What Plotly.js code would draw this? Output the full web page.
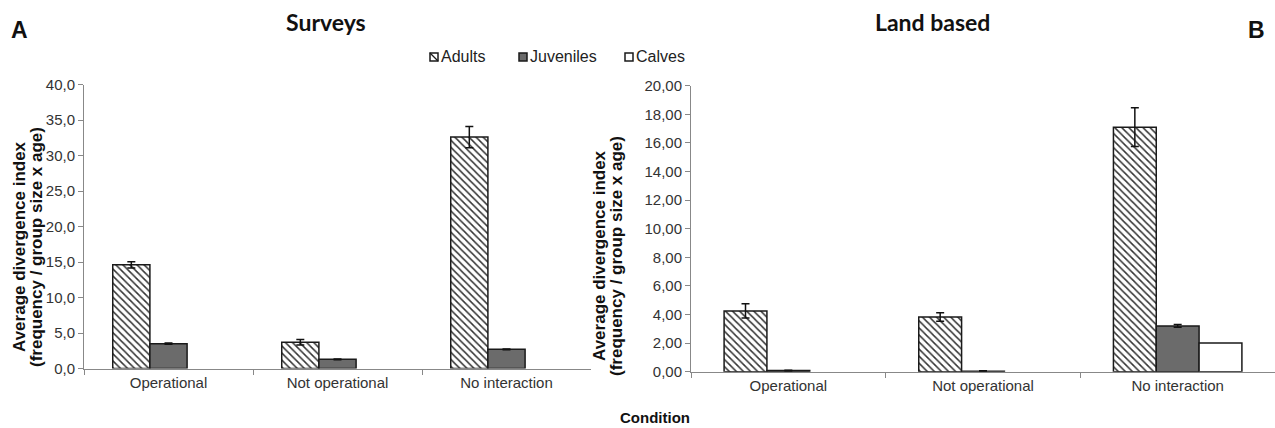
<!DOCTYPE html>
<html>
<head>
<meta charset="utf-8">
<script src="https://cdn.plot.ly/plotly-3.0.1.min.js"></script>
<style>html,body{margin:0;padding:0;background:#fff;}#chart{width:1275px;height:428px;}</style>
</head>
<body>
<div id="chart"></div>
<script>
// ---- data ----
const categories = ['Operational', 'Not operational', 'No interaction'];
const ageClasses = ['Adults', 'Juveniles', 'Calves'];
const panelTitles = ['Surveys', 'Land based'];
const panelLetters = ['A', 'B'];
const xTitle = 'Condition';
const yTitleLines = ['Average divergence index', '(frequency / group size x age)'];

const surveysAdults = [14.6, 3.7, 32.6];
const surveysAdultsErr = [0.45, 0.4, 1.5];
const surveysJuveniles = [3.5, 1.3, 2.7];
const surveysJuvenilesErr = [0.1, 0.05, 0.05];
const surveysCalves = [0, 0, 0];

const landAdults = [4.25, 3.83, 17.1];
const landAdultsErr = [0.5, 0.3, 1.35];
const landJuveniles = [0.08, 0.04, 3.2];
const landJuvenilesErr = [0.03, 0.02, 0.1];
const landCalves = [0, 0, 2.0];

// ---- helpers ----
const W = 1275, H = 428;
const px = x => x / W;
const py = y => 1 - y / H;
const errStyle = arr => ({type: 'data', array: arr, visible: true, color: '#111', thickness: 1.5, width: 4});

const fills = [
  {color: '#ffffff', pattern: {shape: '\\', fgcolor: '#333333', bgcolor: '#ffffff', size: 5, solidity: 0.3}},
  {color: '#6b6b6b'},
  {color: '#ffffff'}
];

function bar(y, err, i, xa, ya) {
  const marker = Object.assign({}, fills[i], {line: {color: '#1a1a1a', width: y.map(v => (v > 0 ? 1.5 : 0))}});
  const t = {type: 'bar', x: categories, y: y, name: ageClasses[i], marker: marker,
    xaxis: xa, yaxis: ya, showlegend: false, hoverinfo: 'x+y'};
  if (err) t.error_y = errStyle(err);
  return t;
}

const data = [
  bar(surveysAdults, surveysAdultsErr, 0, 'x', 'y'),
  bar(surveysJuveniles, surveysJuvenilesErr, 1, 'x', 'y'),
  bar(surveysCalves, null, 2, 'x', 'y'),
  bar(landAdults, landAdultsErr, 0, 'x2', 'y2'),
  bar(landJuveniles, landJuvenilesErr, 1, 'x2', 'y2'),
  bar(landCalves, null, 2, 'x2', 'y2')
];

const tickFont = {family: 'Liberation Sans, Arial, sans-serif', size: 15, color: '#333'};
const xaxisBase = {type: 'category', showline: true, linecolor: '#888', linewidth: 1, ticks: 'outside',
  tickson: 'boundaries', ticklen: 5, tickcolor: '#888', showgrid: false, zeroline: false, tickfont: tickFont, fixedrange: true};
const yaxisBase = {showline: true, linecolor: '#888', linewidth: 1, ticks: 'outside', ticklen: 5, tickcolor: '#888',
  showgrid: false, zeroline: false, tickfont: tickFont, fixedrange: true};

const annotations = [];
const boldFont = (s) => ({family: 'Liberation Sans, Arial, sans-serif', size: s, color: '#111'});
const titleFont = {family: 'Lato, sans-serif', size: 23, color: '#111'};
// panel titles
annotations.push({text: '<b>' + panelTitles[0] + '</b>', x: px(326), y: py(22), xref: 'paper', yref: 'paper', showarrow: false, xanchor: 'center', yanchor: 'middle', font: titleFont});
annotations.push({text: '<b>' + panelTitles[1] + '</b>', x: px(932), y: py(22), xref: 'paper', yref: 'paper', showarrow: false, xanchor: 'center', yanchor: 'middle', font: titleFont});
annotations.push({text: '<b>' + panelLetters[0] + '</b>', x: px(19), y: py(30), xref: 'paper', yref: 'paper', showarrow: false, xanchor: 'center', yanchor: 'middle', font: boldFont(23)});
annotations.push({text: '<b>' + panelLetters[1] + '</b>', x: px(1256), y: py(30), xref: 'paper', yref: 'paper', showarrow: false, xanchor: 'center', yanchor: 'middle', font: boldFont(23)});
annotations.push({text: '<b>' + xTitle + '</b>', x: px(655), y: py(417), xref: 'paper', yref: 'paper', showarrow: false, xanchor: 'center', yanchor: 'middle', font: boldFont(15)});
// y titles
[[19, 36, 247], [600, 617, 256]].forEach(([x1, x2, yc]) => {
  annotations.push({text: '<b>' + yTitleLines[0] + '</b>', x: px(x1), y: py(yc), xref: 'paper', yref: 'paper', showarrow: false, textangle: -90, xanchor: 'center', yanchor: 'middle', font: boldFont(17)});
  annotations.push({text: '<b>' + yTitleLines[1] + '</b>', x: px(x2), y: py(yc), xref: 'paper', yref: 'paper', showarrow: false, textangle: -90, xanchor: 'center', yanchor: 'middle', font: boldFont(17)});
});
// custom legend
const legendX = [430, 519, 625];
const legendY = 57;
const shapes = [];
ageClasses.forEach((name, i) => {
  const x0 = legendX[i];
  shapes.push({type: 'rect', xref: 'paper', yref: 'paper', x0: px(x0), x1: px(x0 + 8), y0: py(legendY + 4), y1: py(legendY - 4),
    fillcolor: fills[i].color, line: {color: '#1a1a1a', width: 1.5}});
  if (i === 0) {
    shapes.push({type: 'line', xref: 'paper', yref: 'paper', x0: px(x0), x1: px(x0 + 8), y0: py(legendY - 4), y1: py(legendY + 4), line: {color: '#1a1a1a', width: 1.2}});
  }
  annotations.push({text: name, x: px(x0 + 9), y: py(legendY), xref: 'paper', yref: 'paper', showarrow: false, xanchor: 'left', yanchor: 'middle',
    font: {family: 'Liberation Sans, Arial, sans-serif', size: 16, color: '#222'}});
});

const layout = {
  width: W, height: H,
  margin: {l: 0, r: 0, t: 0, b: 0},
  paper_bgcolor: '#fff', plot_bgcolor: '#fff',
  separators: ',.',
  barmode: 'group', bargap: 0.34, bargroupgap: 0,
  showlegend: false,
  xaxis: Object.assign({}, xaxisBase, {domain: [px(84), px(591)], anchor: 'y'}),
  yaxis: Object.assign({}, yaxisBase, {domain: [1 - 368.5 / H, 1 - 84.5 / H], range: [0, 40], dtick: 5, tickformat: '.1f', anchor: 'x'}),
  xaxis2: Object.assign({}, xaxisBase, {domain: [px(691), 1], anchor: 'y2'}),
  yaxis2: Object.assign({}, yaxisBase, {domain: [1 - 371.7 / H, 1 - 85.7 / H], range: [0, 20], dtick: 2, tickformat: '.2f', anchor: 'x2'}),
  annotations: annotations,
  shapes: shapes
};

Plotly.newPlot('chart', data, layout, {displayModeBar: false, staticPlot: true});
</script>
</body>
</html>
